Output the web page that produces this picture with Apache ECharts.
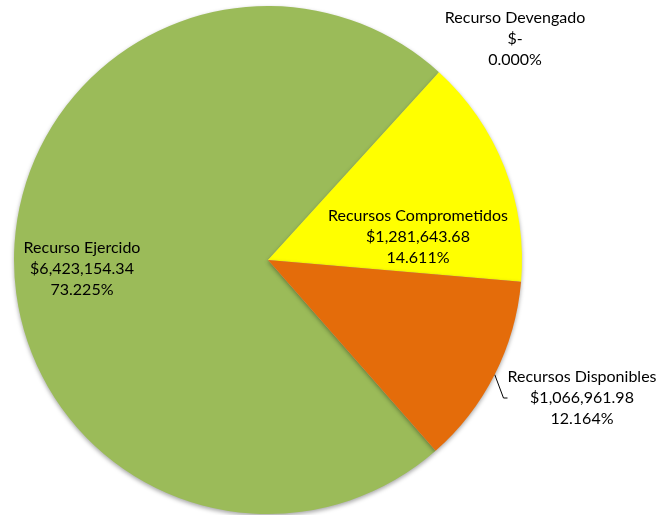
<!DOCTYPE html>
<html>
<head>
<meta charset="utf-8">
<script src="https://cdn.jsdelivr.net/npm/echarts@6/dist/echarts.min.js"></script>
<style>
  html, body { margin: 0; padding: 0; background: #fff; }
  #main { width: 661px; height: 515px; }
</style>
</head>
<body>
<div id="main"></div>
<script>
// datos de la gráfica
var names = ["Recurso Ejercido", "Recurso Devengado", "Recursos Comprometidos", "Recursos Disponibles"];
var values = [6423154.34, 0, 1281643.68, 1066961.98];
var colors = ["#9BBB59", "#C0504D", "#FFFF00", "#E46C0A"];
// posición de cada etiqueta (centro del texto)
var labelPos = [[82, 269], [515, 39], [418, 237], [582, 398]];

function money(v) {
  if (!v) return "$-";
  return "$" + v.toLocaleString("en-US", { minimumFractionDigits: 2, maximumFractionDigits: 2 });
}

var myChart = echarts.init(document.getElementById("main"));

var data = names.map(function (n, i) {
  return {
    name: n,
    value: values[i],
    itemStyle: { color: colors[i] },
    labelLine: { show: i === 3, length: 2, length2: 4, lineStyle: { color: "#000", width: 1 } },
  };
});

myChart.setOption({
  animation: false,
  series: [
    {
      type: "pie",
      center: [268, 260],
      radius: 254,
      startAngle: 311.3,
      clockwise: true,
      percentPrecision: 3,
      avoidLabelOverlap: false,
      itemStyle: {
        borderWidth: 0,
        shadowBlur: 4,
        shadowOffsetY: 2,
        shadowColor: "rgba(0,0,0,0.35)",
      },
      label: {
        show: true,
        position: "outside",
        color: "#000",
        fontFamily: "Lato",
        fontSize: 16,
        lineHeight: 21,
        align: "center",
        formatter: function (p) {
          return p.name + "\n" + money(p.value) + "\n" + p.percent.toFixed(3) + "%";
        },
      },
      labelLayout: function (params) {
        var pos = labelPos[params.dataIndex];
        return {
          x: pos[0],
          y: pos[1],
          align: "center",
          verticalAlign: "middle",
        };
      },
      data: data,
    },
  ],
});

window.addEventListener("resize", function () {
  myChart.resize();
});
</script>
</body>
</html>
